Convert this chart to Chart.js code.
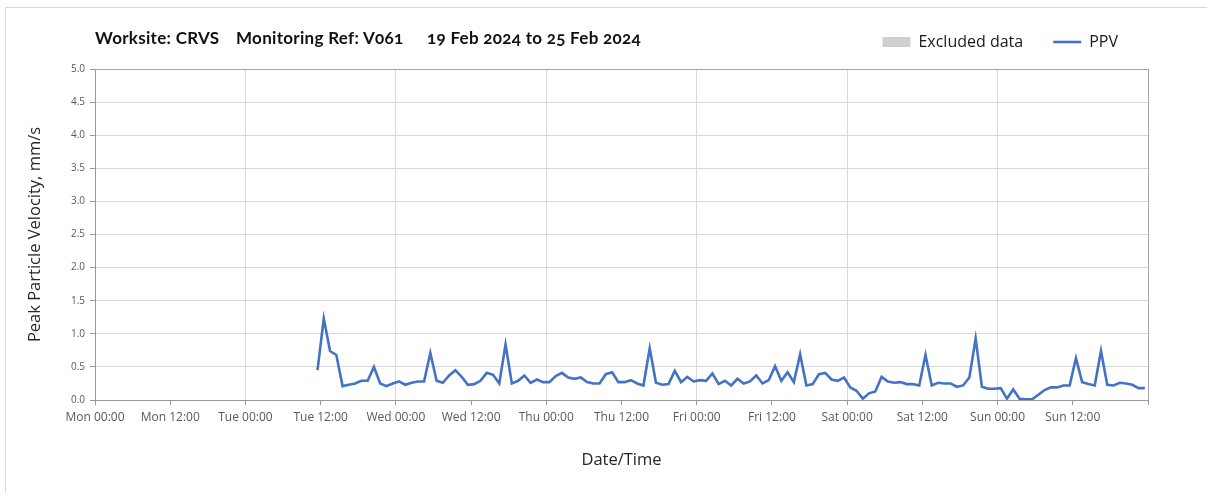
<!DOCTYPE html>
<html>
<head>
<meta charset="utf-8">
<title>PPV V061</title>
<script src="https://cdn.jsdelivr.net/npm/chart.js@4"></script>
<style>
    body { margin: 0; background: #fff; }
    #wrap { position: relative; width: 1207px; height: 493px; overflow: hidden; }
    #frame { position: absolute; left: 5px; top: 7px; width: 1220px; height: 520px; border: 1px solid #d9d9d9; }
    #title span {
        position: absolute; top: 27px;
        font-family: Lato, sans-serif; font-weight: bold; font-size: 17px; color: #111;
        letter-spacing: 0.3px; font-variant-numeric: oldstyle-nums; white-space: nowrap;
    }
    canvas { position: absolute; left: 0; top: 0; }
</style>
</head>
<body>
<div id="wrap">
    <div id="frame"></div>
    <canvas id="ppvChart" width="1207" height="493"></canvas>
    <div id="title">
        <span style="left:95px">Worksite: CRVS</span>
        <span style="left:236px">Monitoring Ref: V061</span>
        <span style="left:427px">19 Feb 2024 to 25 Feb 2024</span>
    </div>
</div>
<script>
// x axis: hours from Mon 00:00, a tick every 12 hours
const tickLabels = ['Mon 00:00', 'Mon 12:00', 'Tue 00:00', 'Tue 12:00', 'Wed 00:00', 'Wed 12:00',
    'Thu 00:00', 'Thu 12:00', 'Fri 00:00', 'Fri 12:00', 'Sat 00:00', 'Sat 12:00', 'Sun 00:00', 'Sun 12:00'];
const yTicks = [0, 0.5, 1, 1.5, 2, 2.5, 3, 3.5, 4, 4.5, 5];

// hourly readings, first one at Tue 11:30
const firstHour = 35.5;
const ppv = [
    0.45, 1.23, 0.74, 0.68, 0.21, 0.23, 0.25, 0.29, 0.29, 0.50, 0.25, 0.21, 0.25, 0.28, 0.23, 0.26, 0.28, 0.28,
    0.71, 0.29, 0.26, 0.37, 0.45, 0.35, 0.23, 0.24, 0.29, 0.41, 0.38, 0.25, 0.84, 0.25, 0.29, 0.37, 0.26, 0.31,
    0.27, 0.27, 0.36, 0.41, 0.34, 0.32, 0.34, 0.27, 0.25, 0.25, 0.39, 0.42, 0.27, 0.27, 0.30, 0.25, 0.22, 0.78,
    0.26, 0.23, 0.24, 0.44, 0.27, 0.35, 0.28, 0.30, 0.29, 0.40, 0.24, 0.29, 0.22, 0.32, 0.25, 0.28, 0.37, 0.25,
    0.30, 0.51, 0.29, 0.42, 0.27, 0.69, 0.22, 0.24, 0.39, 0.41, 0.31, 0.29, 0.34, 0.19, 0.14, 0.02, 0.10, 0.13,
    0.35, 0.28, 0.26, 0.27, 0.24, 0.24, 0.22, 0.68, 0.22, 0.26, 0.25, 0.25, 0.20, 0.22, 0.34, 0.93, 0.20, 0.17,
    0.17, 0.18, 0.02, 0.16, 0.02, 0.01, 0.01, 0.08, 0.15, 0.19, 0.19, 0.22, 0.22, 0.63, 0.27, 0.24, 0.22, 0.74,
    0.23, 0.22, 0.26, 0.25, 0.23, 0.18, 0.18
];
const excluded = [];

Chart.defaults.font.family = "'Open Sans', sans-serif";
Chart.defaults.color = '#595959';

const lastHour = tickLabels.length * 12;

new Chart(document.getElementById('ppvChart'), {
    type: 'line',
    data: {
        datasets: [{
            label: 'Excluded data',
            data: excluded,
            backgroundColor: '#d0d0d0',
            borderColor: '#d0d0d0',
            borderWidth: 0,
            pointStyle: 'rect'
        }, {
            label: 'PPV',
            data: ppv.map((v, i) => ({ x: firstHour + i, y: v })),
            borderColor: '#4472c4',
            backgroundColor: '#4472c4',
            borderWidth: 2.6,
            pointRadius: 0,
            pointStyle: 'line',
            tension: 0
        }]
    },
    options: {
        responsive: false,
        animation: false,
        devicePixelRatio: 1,
        layout: { padding: { top: 4, left: 10, right: 59, bottom: 23 } },
        plugins: {
            legend: {
                position: 'top',
                align: 'end',
                labels: {
                    usePointStyle: true,
                    pointStyleWidth: 28,
                    boxHeight: 10,
                    padding: 30,
                    color: '#1a1a1a',
                    font: { size: 16 }
                }
            },
            // empty spacer between legend and plot
            subtitle: { display: true, text: '', weight: 500, font: { size: 1 }, padding: { top: 7.8, bottom: 0 } },
            tooltip: { enabled: false }
        },
        scales: {
            x: {
                type: 'linear',
                min: 0,
                max: lastHour,
                afterFit: scale => { scale.height = 70; },
                afterBuildTicks: scale => {
                    scale.ticks = [];
                    for (let h = 0; h <= lastHour; h += 12) scale.ticks.push({ value: h });
                },
                ticks: {
                    autoSkip: false,
                    maxRotation: 0,
                    padding: 5,
                    color: '#595959',
                    font: { size: 12 },
                    callback: v => tickLabels[v / 12] || ''
                },
                grid: {
                    color: c => {
                        const v = c.tick ? c.tick.value : -1;
                        if (v === lastHour) return '#a6a6a6';
                        return (v > 0 && v % 24 === 0) ? '#d9d9d9' : 'rgba(0,0,0,0)';
                    },
                    tickColor: '#999',
                    tickLength: 5
                },
                border: { color: '#999' },
                title: {
                    display: true,
                    text: 'Date/Time',
                    color: '#262626',
                    font: { size: 16.5 },
                    padding: { top: 0, bottom: 0 }
                }
            },
            y: {
                min: 0,
                max: 5,
                afterFit: scale => { scale.width = 85; },
                afterBuildTicks: scale => { scale.ticks = yTicks.map(v => ({ value: v })); },
                ticks: {
                    padding: 5,
                    color: '#595959',
                    font: { size: 10 },
                    callback: v => v.toFixed(1)
                },
                grid: {
                    color: c => (c.tick && c.tick.value === 5) ? '#a6a6a6' : '#d9d9d9',
                    tickColor: '#999',
                    tickLength: 5
                },
                border: { color: '#999' },
                title: {
                    display: true,
                    text: 'Peak Particle Velocity, mm/s',
                    color: '#262626',
                    font: { size: 16.5 },
                    padding: { top: 15, bottom: 0 }
                }
            }
        }
    }
});
</script>
</body>
</html>
